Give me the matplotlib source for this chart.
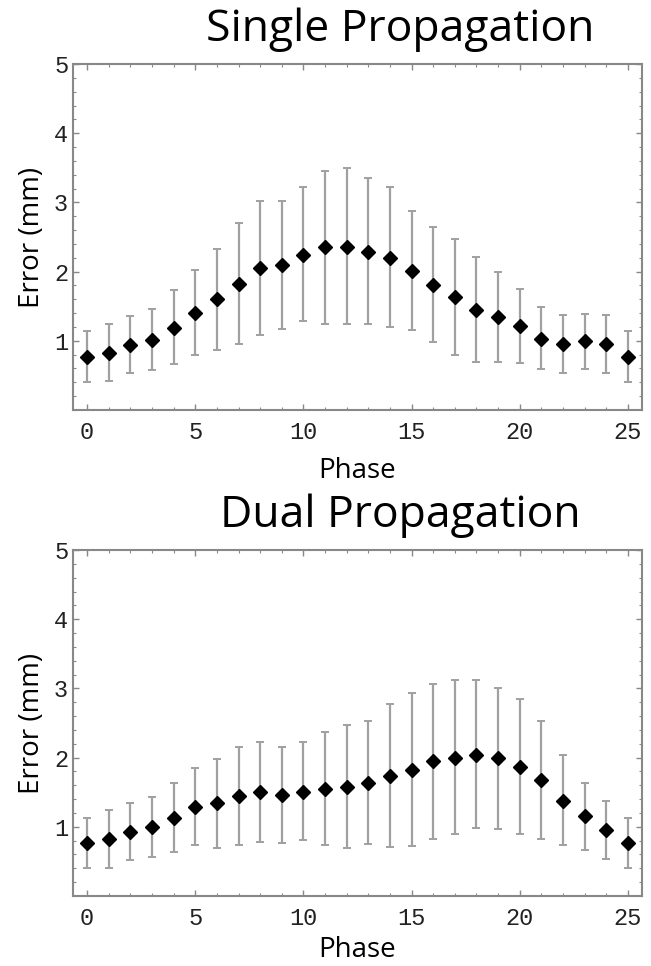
import matplotlib.pyplot as plt
from matplotlib.ticker import MultipleLocator

phase = list(range(26))

# Single propagation: mean error and error bar ends (mm)
single_mean = [0.76, 0.83, 0.94, 1.01, 1.19, 1.40, 1.60, 1.82, 2.05, 2.09, 2.24, 2.35, 2.36,
               2.29, 2.20, 2.01, 1.81, 1.63, 1.44, 1.34, 1.21, 1.03, 0.95, 0.99, 0.95, 0.76]
single_top = [1.14, 1.25, 1.36, 1.46, 1.74, 2.03, 2.33, 2.70, 3.02, 3.02, 3.22, 3.46, 3.49,
              3.35, 3.22, 2.87, 2.64, 2.47, 2.21, 2.00, 1.75, 1.49, 1.38, 1.39, 1.38, 1.14]
single_bot = [0.41, 0.42, 0.53, 0.58, 0.66, 0.80, 0.87, 0.96, 1.09, 1.17, 1.28, 1.25, 1.24,
              1.25, 1.20, 1.15, 0.98, 0.80, 0.70, 0.69, 0.68, 0.59, 0.53, 0.59, 0.54, 0.41]

# Dual propagation
dual_mean = [0.76, 0.82, 0.92, 0.99, 1.13, 1.29, 1.34, 1.44, 1.50, 1.46, 1.50, 1.55, 1.58,
             1.63, 1.73, 1.82, 1.95, 2.00, 2.04, 1.99, 1.86, 1.67, 1.38, 1.15, 0.96, 0.76]
dual_top = [1.13, 1.24, 1.34, 1.43, 1.64, 1.85, 1.98, 2.15, 2.23, 2.15, 2.23, 2.37, 2.47,
            2.53, 2.77, 2.93, 3.07, 3.12, 3.12, 3.00, 2.84, 2.53, 2.04, 1.63, 1.37, 1.13]
dual_bot = [0.40, 0.41, 0.52, 0.57, 0.63, 0.73, 0.70, 0.74, 0.78, 0.77, 0.81, 0.73, 0.69,
            0.75, 0.71, 0.72, 0.83, 0.90, 0.98, 0.97, 0.90, 0.83, 0.73, 0.67, 0.54, 0.40]

panels = [
    ("Single Propagation", single_mean, single_bot, single_top),
    ("Dual Propagation", dual_mean, dual_bot, dual_top),
]

fig = plt.figure(figsize=(6.51, 9.66), dpi=100)
W, H = 651, 966
# axes boxes in pixels: left, top, right, bottom
boxes = [(73, 64, 642, 410), (73, 550, 642, 896)]
title_y = [30, 516]
xpads = [9, 4]

for (title, mean, bot, top), (l, t, r, b), ty, xp in zip(panels, boxes, title_y, xpads):
    ax = fig.add_axes([l / W, 1 - b / H, (r - l) / W, (b - t) / H])
    lower = [m - lo for m, lo in zip(mean, bot)]
    upper = [hi - m for m, hi in zip(mean, top)]
    ax.errorbar(phase, mean, yerr=[lower, upper], fmt='D', color='black', markersize=7,
                ecolor='#a0a0a0', elinewidth=1.6, capsize=3, capthick=1.4)
    ax.set_xlim(-0.65, 25.65)
    ax.set_ylim(0, 5)
    ax.set_yticks([1, 2, 3, 4, 5])
    ax.set_xticks([0, 5, 10, 15, 20, 25])
    ax.xaxis.set_minor_locator(MultipleLocator(1))
    ax.yaxis.set_minor_locator(MultipleLocator(0.2))
    ax.tick_params(which='both', direction='in', top=True, right=True, color='#888888')
    ax.tick_params(which='major', length=4, width=1)
    ax.tick_params(which='minor', length=2, width=0.8)
    ax.tick_params(axis='both', labelsize=17, labelcolor='#222222')
    for lab in ax.get_xticklabels() + ax.get_yticklabels():
        lab.set_family('Liberation Mono')
    ax.tick_params(axis='x', pad=8)
    for s in ax.spines.values():
        s.set_color('#888888')
        s.set_linewidth(1.5)
    ax.set_xlabel('Phase', fontsize=20, family='Open Sans', labelpad=xp)
    ax.set_ylabel('Error (mm)', fontsize=20, family='Open Sans', labelpad=6)
    fig.text(400 / W, 1 - ty / H, title, fontsize=32, family='Open Sans',
             ha='center', va='center')

fig.savefig('out.png', dpi=100)
